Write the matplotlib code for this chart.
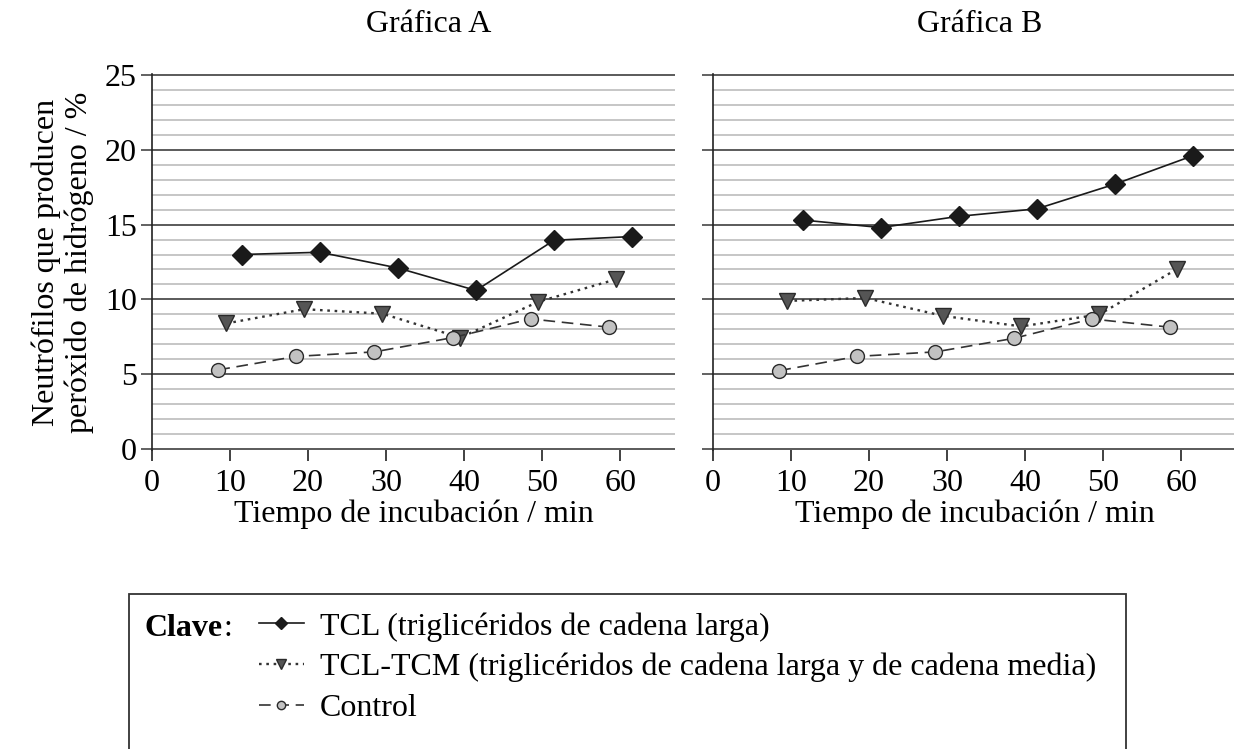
import matplotlib
matplotlib.use("Agg")
import matplotlib.pyplot as plt
from matplotlib.ticker import MultipleLocator
from matplotlib.patches import Rectangle

plt.rcParams['font.family'] = ['Liberation Serif', 'DejaVu Serif']

# tiempos (min) de cada serie
tiempo_tcl = [11.5, 21.5, 31.5, 41.5, 51.5, 61.5]
tiempo_tcm = [9.5, 19.5, 29.5, 39.5, 49.5, 59.5]
tiempo_ctrl = [8.5, 18.5, 28.5, 38.5, 48.5, 58.5]

# Gráfica A
a_tcl = [13.0, 13.15, 12.1, 10.6, 13.95, 14.2]
a_tcm = [8.4, 9.35, 9.05, 7.45, 9.85, 11.35]
a_ctrl = [5.3, 6.2, 6.5, 7.45, 8.7, 8.15]

# Gráfica B
b_tcl = [15.3, 14.8, 15.55, 16.05, 17.7, 19.6]
b_tcm = [9.9, 10.1, 8.9, 8.2, 9.0, 12.05]
b_ctrl = [5.25, 6.2, 6.5, 7.4, 8.7, 8.15]

etiquetas = ["TCL (triglicéridos de cadena larga)",
             "TCL-TCM (triglicéridos de cadena larga y de cadena media)",
             "Control"]
titulos = ["Gráfica A", "Gráfica B"]
x_ticks = [0, 10, 20, 30, 40, 50, 60]
y_ticks = [0, 5, 10, 15, 20, 25]

W, H = 1234, 749
FS = 23
fig = plt.figure(figsize=(W / 100, H / 100), dpi=100)

ax_a = fig.add_axes([152 / W, 1 - 450 / H, 523 / W, 376 / H])
ax_b = fig.add_axes([713 / W, 1 - 450 / H, 523 / W, 376 / H])


def dibujar(ax, tcl, tcm, ctrl, etiquetas_y):
    l1, = ax.plot(tiempo_tcl, tcl, color='#1a1a1a', lw=1.2, marker='D',
                  ms=10, mfc='#1a1a1a', mec='#1a1a1a', zorder=4)
    l2, = ax.plot(tiempo_tcm, tcm, color='#333333', lw=1.7, dashes=(1.1, 2.0),
                  marker='v', ms=11, mfc='#555555', mec='#2a2a2a', mew=1.0, zorder=3)
    l3, = ax.plot(tiempo_ctrl, ctrl, color='#333333', lw=1.2, dashes=(7, 4),
                  marker='o', ms=10, mfc='#c2c2c2', mec='#2a2a2a', mew=1.0, zorder=3)
    ax.set_xlim(0, 67)
    ax.set_ylim(-0.05, 25.05)
    ax.set_xticks(x_ticks)
    ax.set_yticks(y_ticks)
    ax.yaxis.set_minor_locator(MultipleLocator(1))
    ax.set_axisbelow(True)
    ax.grid(which='minor', axis='y', color='#c6c6c6', lw=1.4)
    ax.grid(which='major', axis='y', color='#5a5a5a', lw=1.4)
    for s in ['top', 'right', 'bottom']:
        ax.spines[s].set_visible(False)
    ax.spines['left'].set_color('#222222')
    ax.spines['left'].set_linewidth(1.2)
    ax.tick_params(axis='y', which='major', length=8, width=1.3, color='#555555',
                   labelsize=FS, pad=3, labelleft=etiquetas_y)
    ax.tick_params(axis='y', which='minor', length=0)
    ax.tick_params(axis='x', length=8, width=1.3, color='#333333',
                   labelsize=FS, pad=6)
    ax.set_xlabel('Tiempo de incubación / min', fontsize=FS, labelpad=1)
    return l1, l2, l3


lineas = dibujar(ax_a, a_tcl, a_tcm, a_ctrl, True)
dibujar(ax_b, b_tcl, b_tcm, b_ctrl, False)

ax_a.set_ylabel('Neutrófilos que producen\nperóxido de hidrógeno / %',
                fontsize=FS, linespacing=1.15, labelpad=8)

fig.text(429 / W, 1 - 24 / H, titulos[0], fontsize=FS, ha='center', va='center')
fig.text(980 / W, 1 - 24 / H, titulos[1], fontsize=FS, ha='center', va='center')

# recuadro de la clave (abierto por abajo)
fig.patches.append(Rectangle((129 / W, -0.05), (1126 - 129) / W, 0.05 + 1 - 594 / H,
                             transform=fig.transFigure, fill=False,
                             ec='#333333', lw=1.3))
fig.text(145 / W, 1 - 628 / H, 'Clave', fontsize=FS, fontweight='bold', va='center')
fig.text(223 / W, 1 - 628 / H, ':', fontsize=FS, va='center')

fig.legend(lineas, etiquetas, loc='upper left',
           bbox_to_anchor=(259 / W, 1 - 612 / H), frameon=False,
           fontsize=FS, handlelength=1.4, handletextpad=0.5,
           labelspacing=0.36, borderpad=0, borderaxespad=0,
           markerscale=0.6, numpoints=1)

fig.savefig('out.png', dpi=100)
